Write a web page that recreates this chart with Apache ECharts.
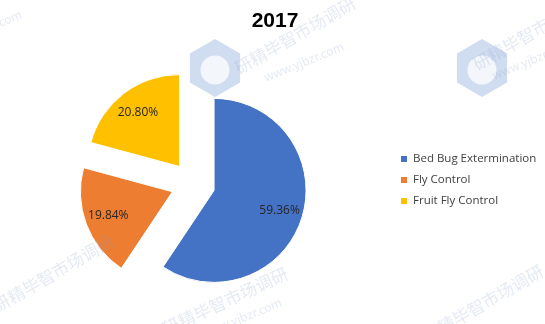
<!DOCTYPE html>
<html><head><meta charset="utf-8">
<script src="https://cdn.jsdelivr.net/npm/echarts@6/dist/echarts.min.js"></script>
<style>html,body{margin:0;padding:0;background:#fff}#c{width:545px;height:324px}</style>
</head><body><div id="c"></div>
<script>
const titleText = '2017';
const categories = ['Bed Bug Extermination', 'Fly Control', 'Fruit Fly Control'];
const values = [59.36, 19.84, 20.80];
const colors = ['#4472C4', '#ED7D31', '#FFC000'];

const chart = echarts.init(document.getElementById('c'));
const data = categories.map((n, i) => ({ name: n, value: values[i], selected: true, itemStyle: { color: colors[i] } }));
const labelData = categories.map((n, i) => ({ name: n, value: values[i], selected: true }));

const wmColor = 'rgba(130,160,205,0.22)';
function wm(x, y, text, size, rot) {
  return { type: 'text', x: x, y: y, rotation: rot * Math.PI / 180, z: 100, silent: true,
    style: { text: text, fill: wmColor, font: size + 'px "Noto Sans CJK SC", sans-serif' } };
}
function logo(cx, cy, r) {
  const pts = [];
  for (let k = 0; k < 6; k++) {
    const a = Math.PI / 2 + k * Math.PI / 3;
    pts.push([cx + r * Math.cos(a), cy - r * Math.sin(a)]);
  }
  return [
    { type: 'polygon', z: 99, silent: true, shape: { points: pts }, style: { fill: 'rgba(150,178,220,0.45)' } },
    { type: 'circle', z: 99, silent: true, shape: { cx: cx, cy: cy + 2, r: r * 0.5 }, style: { fill: 'rgba(255,255,255,0.75)' } }
  ];
}

chart.setOption({
  animation: false,
  title: { text: titleText, left: 270, top: 6, textAlign: 'center',
    textStyle: { fontSize: 21, fontWeight: 'bold', color: '#000', fontFamily: 'Liberation Sans' } },
  legend: {
    orient: 'vertical', left: 394, top: 148, itemWidth: 8, itemHeight: 8, itemGap: 9,
    icon: 'rect', selectedMode: false,
    textStyle: { fontSize: 11.5, color: '#404040', fontFamily: 'Open Sans' },
    data: categories
  },
  graphic: [].concat(
    logo(215, 68, 29),
    logo(482, 68, 29),
    [
      wm(232, 62, '研精毕智市场调研', 17, 30),
      wm(262, 72, 'www.yjbzr.com', 12, 22),
      wm(470, 58, '研精毕智市场调研', 17, 30),
      wm(490, 70, 'www.yjbzr.com', 12, 22),
      wm(160, 322, '研精毕智市场调研', 17, 25),
      wm(200, 328, 'www.yjbzr.com', 12, 22),
      wm(-10, 300, '研精毕智市场调研', 17, 30),
      wm(-60, 40, 'www.yjbzr.com', 12, 22),
      wm(420, 330, '研精毕智市场调研', 17, 30)
    ]
  ),
  series: [
    {
      type: 'pie', center: [193, 184], radius: [0, 92], startAngle: 90, clockwise: true,
      selectedMode: 'multiple', selectedOffset: 22,
      label: { show: false }, labelLine: { show: false },
      itemStyle: { borderColor: '#fff', borderWidth: 1 },
      emphasis: { disabled: true },
      data: data
    },
    {
      type: 'pie', center: [193, 184], radius: [39, 92], startAngle: 90, clockwise: true,
      selectedMode: 'multiple', selectedOffset: 22, silent: true,
      itemStyle: { color: 'rgba(0,0,0,0)' },
      label: { show: true, position: 'inside', formatter: p => p.value.toFixed(2) + '%',
        fontSize: 12, color: '#262626', fontFamily: 'Open Sans' },
      labelLine: { show: false },
      emphasis: { disabled: true },
      data: labelData
    }
  ]
});
</script></body></html>
